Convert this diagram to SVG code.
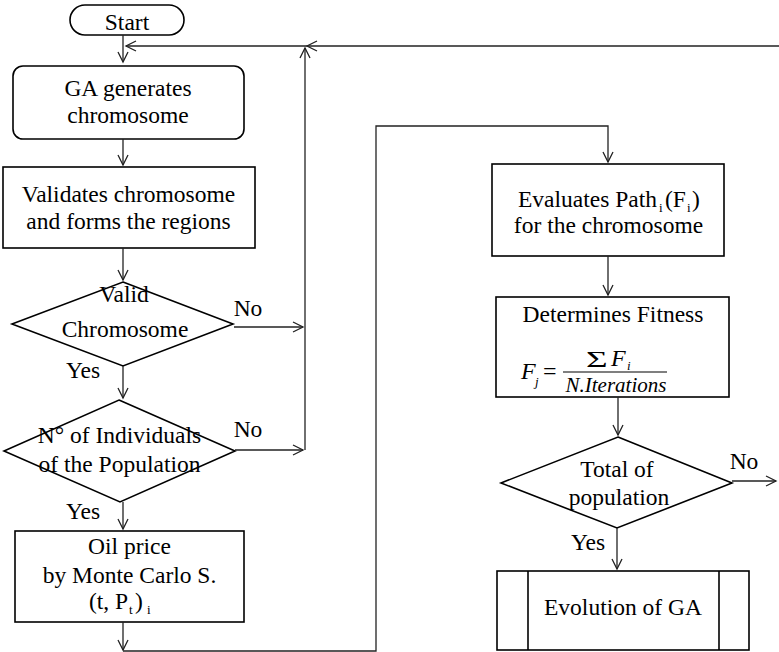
<svg xmlns="http://www.w3.org/2000/svg" width="779" height="652" viewBox="0 0 779 652">
<style>
.box{fill:#fff;stroke:#000;stroke-width:1.6}
.t{font-family:'Liberation Serif','Times New Roman',Times,'DejaVu Serif',serif;font-size:23.5px;fill:#000}
.m{text-anchor:middle}
.c{fill:none;stroke:#222;stroke-width:1.3}
.sub{font-size:13px}
.it{font-style:italic}
</style>
<defs>
<marker id="a" markerUnits="userSpaceOnUse" markerWidth="14" markerHeight="14" refX="11" refY="6" orient="auto">
<path d="M1,1 L11,6 L1,11" fill="none" stroke="#222" stroke-width="1.3"/>
</marker>
</defs>
<g id="start"><rect class="box" x="70" y="5" width="114" height="30" rx="15"/><text class="t m" x="127" y="30">Start</text></g>
<g id="ga"><rect class="box" x="13" y="66" width="231" height="73" rx="10"/><text class="t m" x="128" y="96">GA generates</text><text class="t m" x="128" y="123">chromosome</text></g>
<g id="validates"><rect class="box" x="3" y="167" width="252" height="81"/><text class="t m" x="128.5" y="202">Validates chromosome</text><text class="t m" x="128.5" y="229">and forms the regions</text></g>
<g id="valid"><polygon class="box" points="123,282 233,324 123,366 12,324"/><text class="t m" x="124" y="302">Valid</text><text class="t m" x="125" y="337">Chromosome</text></g>
<g id="individuals"><polygon class="box" points="119,400 235,451 120,502 4,451" fill="none"/><text class="t m" x="119.5" y="443">N° of Individuals</text><text class="t m" x="119.5" y="472">of the Population</text></g>
<g id="oil"><rect class="box" x="15" y="531" width="229" height="91"/><text class="t m" x="129.5" y="554">Oil price</text><text class="t m" x="129.5" y="583">by Monte Carlo S.</text>
<text class="t" x="89" y="609">(t, P</text><text class="t sub" x="129" y="614">t</text><text class="t" x="135" y="609">)</text><text class="t sub" x="147" y="614">i</text></g>
<g id="evaluates"><rect class="box" x="492" y="164" width="232" height="92"/>
<text class="t" x="518" y="207">Evaluates Path</text><text class="t sub" x="659" y="212">i</text><text class="t" x="665" y="207">(F</text><text class="t sub" x="687" y="212">i</text><text class="t" x="692" y="207">)</text>
<text class="t m" x="608.5" y="233">for the chromosome</text></g>
<g id="fitness"><rect class="box" x="496" y="297" width="233" height="100"/><text class="t m" x="613" y="322">Determines Fitness</text>
<text class="t it" x="521" y="379" style="font-size:24px">F</text><text class="t it sub" x="535" y="386">j</text>
<text class="t" x="543" y="379" style="font-size:24px">=</text>
<line x1="563" y1="372" x2="667" y2="372" stroke="#000" stroke-width="1.2"/>
<text class="t" transform="translate(586,367) scale(1.55,1)" x="0" y="0" style="font-size:24px">Σ</text>
<text class="t it" x="611" y="366" style="font-size:24px">F</text><text class="t it sub" x="627" y="370">i</text>
<text class="t it m" x="616" y="392" style="font-size:21px">N.Iterations</text></g>
<g id="total"><polygon class="box" points="618,437 732,483 617,528 501,483" fill="none"/><text class="t m" x="617" y="477">Total of</text><text class="t m" x="619" y="505">population</text></g>
<g id="evolution"><rect class="box" x="497" y="571" width="252" height="79"/><line x1="528" y1="571" x2="528" y2="650" stroke="#000" stroke-width="1.6"/><line x1="719" y1="571" x2="719" y2="650" stroke="#000" stroke-width="1.6"/><text class="t m" x="623" y="615">Evolution of GA</text></g>
<g id="connectors">
<path class="c" d="M123,35 V62" marker-end="url(#a)"/>
<path class="c" d="M779,46 H307" marker-end="url(#a)"/>
<path class="c" d="M307,46 H126" marker-end="url(#a)"/>
<path class="c" d="M305,450 V48" marker-end="url(#a)"/>
<path class="c" d="M123,139 V165" marker-end="url(#a)"/>
<path class="c" d="M123,248 V280" marker-end="url(#a)"/>
<path class="c" d="M234,327 H303" marker-end="url(#a)"/>
<path class="c" d="M123,366 V398" marker-end="url(#a)"/>
<path class="c" d="M235,450 H303" marker-end="url(#a)"/>
<path class="c" d="M123,502 V529" marker-end="url(#a)"/>
<path class="c" d="M123,622 V650" marker-end="url(#a)"/>
<path class="c" d="M123,651 H376 V126 H608 V162" marker-end="url(#a)"/>
<path class="c" d="M608,256 V295" marker-end="url(#a)"/>
<path class="c" d="M618,397 V435" marker-end="url(#a)"/>
<path class="c" d="M732,481 H776" marker-end="url(#a)"/>
<path class="c" d="M617,528 V569" marker-end="url(#a)"/>
<text class="t m" x="248" y="316">No</text>
<text class="t m" x="83" y="378">Yes</text>
<text class="t m" x="248" y="437">No</text>
<text class="t m" x="83" y="519">Yes</text>
<text class="t m" x="744" y="469">No</text>
<text class="t m" x="588" y="550">Yes</text>
</g>
</svg>
